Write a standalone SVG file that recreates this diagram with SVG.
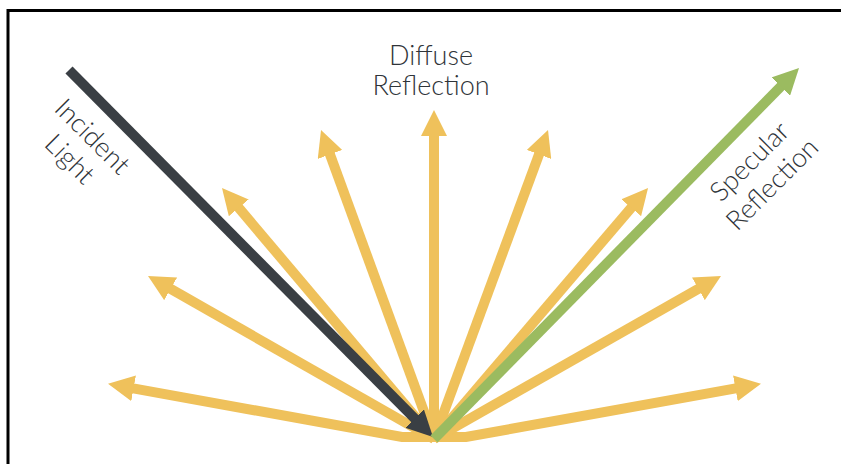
<svg xmlns="http://www.w3.org/2000/svg" width="841" height="464" viewBox="0 0 841 464">
<style>
.lbl{font-family:Lato,"Open Sans","Liberation Sans",sans-serif;font-size:27px;font-weight:300;fill:#2f3439;text-anchor:middle}
.y{stroke:#efc15b;stroke-width:10;fill:none;stroke-linejoin:miter}
</style>
<defs>
<marker id="ay" viewBox="0 0 26 26" markerWidth="26" markerHeight="26" refX="6" refY="13" orient="auto-start-reverse" markerUnits="userSpaceOnUse"><path d="M0,0 L26,13 L0,26 z" fill="#efc15b"/></marker>
<marker id="ak" viewBox="0 0 26 26" markerWidth="26" markerHeight="26" refX="6" refY="13" orient="auto" markerUnits="userSpaceOnUse"><path d="M0,0 L26,13 L0,26 z" fill="#3a3f44"/></marker>
<marker id="ag" viewBox="0 0 26 26" markerWidth="26" markerHeight="26" refX="6" refY="13" orient="auto" markerUnits="userSpaceOnUse"><path d="M0,0 L26,13 L0,26 z" fill="#9bbb60"/></marker>
</defs>
<rect x="8" y="10.5" width="900" height="500" fill="none" stroke="#000" stroke-width="3"/>
<g id="connectors">
<g id="diffuse">
<path class="y" d="M127.7,387.3 L402,437 L466,437 L741.3,387.3" marker-start="url(#ay)" marker-end="url(#ay)"/>
<line class="y" x1="434" y1="439" x2="165.4" y2="285.9" marker-end="url(#ay)"/>
<line class="y" x1="434" y1="439" x2="234.9" y2="203.3" marker-end="url(#ay)"/>
<line class="y" x1="434" y1="439" x2="327.9" y2="148.8" marker-end="url(#ay)"/>
<line class="y" x1="434" y1="439" x2="434" y2="130" marker-end="url(#ay)"/>
<line class="y" x1="434" y1="439" x2="541.1" y2="148.8" marker-end="url(#ay)"/>
<line class="y" x1="434" y1="439" x2="635.1" y2="203.2" marker-end="url(#ay)"/>
<line class="y" x1="434" y1="439" x2="703.6" y2="285.9" marker-end="url(#ay)"/>
</g>
<line id="incident" x1="69" y1="70" x2="418.9" y2="422.8" stroke="#3a3f44" stroke-width="10" marker-end="url(#ak)"/>
<line id="specular" x1="434" y1="439" x2="785" y2="82.3" stroke="#9bbb60" stroke-width="10" marker-end="url(#ag)"/>
</g>
<g id="label-diffuse">
<text class="lbl" x="431" y="65">Diffuse</text>
<text class="lbl" x="431" y="95">Reflection</text>
</g>
<g id="label-incident" transform="translate(86,143) rotate(45)">
<text class="lbl" x="0" y="0">Incident</text>
<text class="lbl" x="0" y="32">Light</text>
</g>
<g id="label-specular" transform="translate(756,168) rotate(-45)">
<text class="lbl" x="0" y="0">Specular</text>
<text class="lbl" x="0" y="32">Reflection</text>
</g>
</svg>
